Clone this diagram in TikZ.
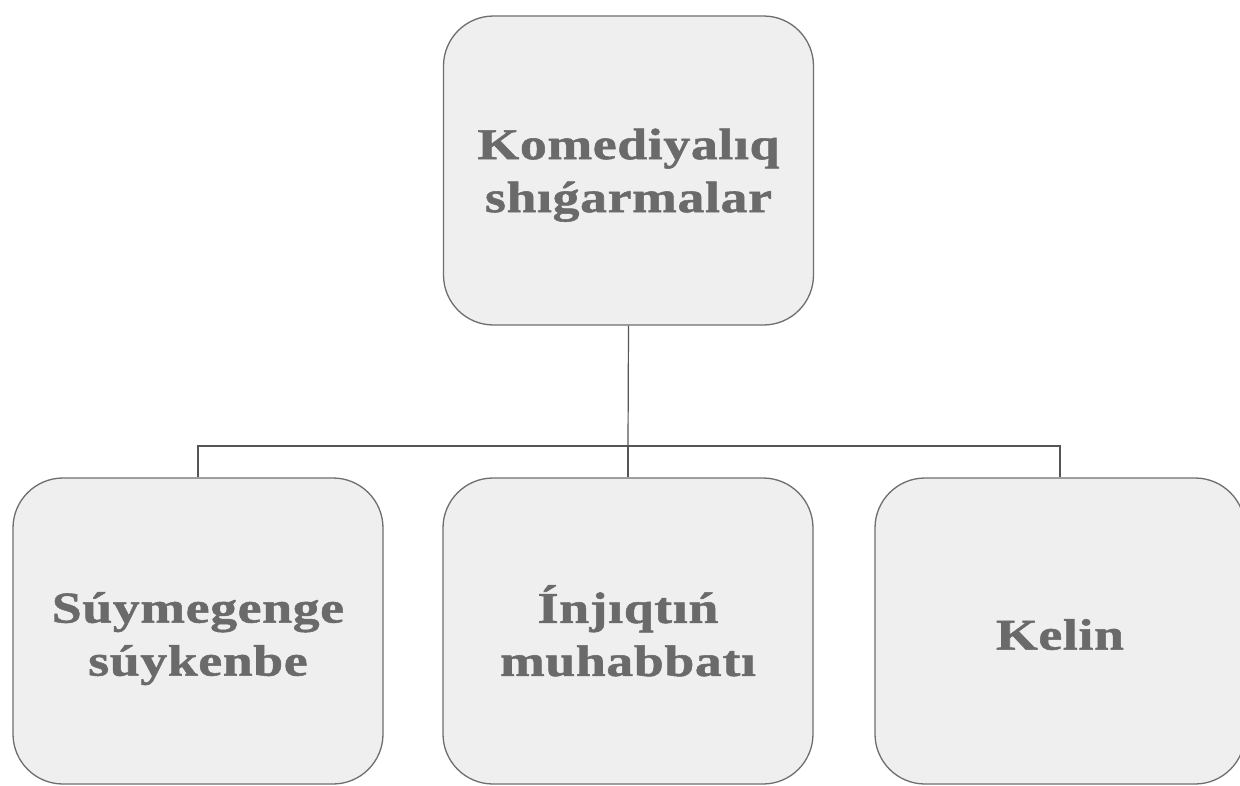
\documentclass[tikz,border=0pt]{standalone}
\usepackage{fontspec}
\setmainfont{Liberation Serif}
\newfontfamily\cardfont[FakeStretch=1.22,LetterSpace=1.5,FakeBold=1.2]{Liberation Serif Bold}
\newcommand{\cardtext}[2]{\raisebox{-#1}[\height][\depth]{\begin{tabular}{@{}c@{}}#2\end{tabular}}}
\definecolor{boxfill}{HTML}{EFEFEF}
\definecolor{boxline}{HTML}{6E6E6E}
\definecolor{txt}{HTML}{6A6A6A}
\definecolor{conn}{HTML}{555555}
\begin{document}
\begin{tikzpicture}[x=1pt,y=-1pt,
  card/.style={draw=boxline, line width=1.3pt, fill=boxfill, rounded corners=50pt,
    minimum width=370pt, minimum height=306pt, inner sep=0pt,
    text=txt, font=\fontsize{44}{53}\cardfont},
  link/.style={draw=conn, line width=1.2pt}]
\useasboundingbox (0,0) rectangle (1240,785);
\fill[white] (0,0) rectangle (1240,785);
\node[card, minimum height=309pt] (top) at (628.5,170.5) {\cardtext{4.5pt}{Komediyalıq\\shıǵarmalar}};
\node[card] (a) at (198,631) {\cardtext{7.5pt}{Súymegenge\\súykenbe}};
\node[card] (b) at (628,631) {\cardtext{7.5pt}{Ínjıqtıń\\muhabbatı}};
\node[card] (c) at (1060,631) {\cardtext{8pt}{Kelin}};
\coordinate (j) at (628,446);
\draw[link] (top.south) -- (j);
\draw[link] (a.north) |- (j) -| (c.north);
\draw[link] (j) -- (b.north);
\end{tikzpicture}
\end{document}
